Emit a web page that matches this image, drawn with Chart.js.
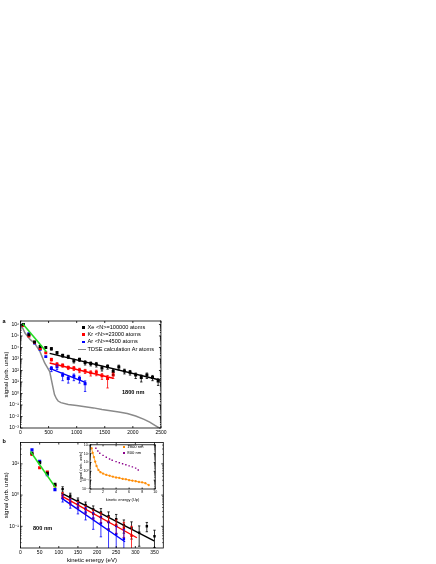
<!DOCTYPE html>
<html>
<head>
<meta charset="utf-8">
<script src="https://cdn.jsdelivr.net/npm/chart.js@4.4.0/dist/chart.umd.min.js"></script>
<style>
  body { margin: 0; background: #fff; }
  #page { position: relative; width: 436px; height: 564px; overflow: hidden; background: #fff; }
  #page canvas { position: absolute; }
  .txt { position: absolute; white-space: nowrap; line-height: 1; color: #000;
         font-family: "Liberation Sans", "DejaVu Sans", Arial, sans-serif; }
  .mark { position: absolute; }
</style>
</head>
<body>
<div id="page">
  <canvas id="chartA" width="168" height="128" style="left:0;top:315px"></canvas>
  <canvas id="chartB" width="168" height="126" style="left:0;top:438px"></canvas>
  <canvas id="chartInset" width="84" height="62" style="left:76px;top:440px"></canvas>
</div>
<script>
const FONT = '"Liberation Sans", "DejaVu Sans", Arial, sans-serif';

// ---- panel a : 1800 nm ----
const xTicksA = [0, 500, 1000, 1500, 2000, 2500];
const lowEnergyA = [50, 150, 250, 350, 450];
const xeLowA = [1.0e6, 1.3e5, 3.0e4, 1.2e4, 1.0e4];
const krLowA = [8.0e5, 1.0e5, 2.8e4, 8.0e3, 3.5e3];
const arLowA = [1.0e6, 1.6e5, 2.5e4, 7.0e3, 1.6e3];

const xeEnergyA = [550, 650, 750, 850, 950, 1050, 1150, 1250, 1350, 1450, 1550, 1650, 1750, 1850, 1950, 2050, 2150, 2250, 2350, 2450];
const xeSignalA = [7900, 3500, 2000, 1600, 700, 900, 500, 400, 350, 160, 220, 80, 200, 90, 70, 40, 25, 40, 25, 12];
const xeErrA = [2000, 900, 600, 500, 250, 300, 200, 150, 150, 70, 90, 40, 90, 40, 30, 20, 15, 20, 12, 7];

const krEnergyA = [550, 650, 750, 850, 950, 1050, 1150, 1250, 1350, 1450, 1550, 1650];
const krSignalA = [900, 350, 280, 180, 160, 110, 90, 63, 70, 35, 20, 40];
const krErrA = [250, 120, 90, 60, 60, 45, 35, 30, 35, 18, 17, 20];

const arEnergyA = [550, 650, 750, 850, 950, 1050, 1150];
const arSignalA = [150, 210, 38, 20, 31, 20, 7];
const arErrA = [70, 90, 25, 12, 18, 12, 5.5];

const lowFitA = { x: [39, 461], y: [1.15e6, 4270] };
const xeFitA = { x: [519, 2500], y: [3090, 14] };
const krFitA = { x: [519, 1650], y: [447, 21] };
const arFitA = { x: [519, 1165], y: [151, 8.9] };

const tdseEnergy = [5, 80, 170, 255, 345, 430, 520, 575, 605, 640, 670, 720, 850, 1000, 1150, 1300, 1450, 1600, 1750, 1900, 2050, 2200, 2300, 2400, 2470];
const tdseSignal = [1.1e6, 1.8e5, 5.0e4, 2.2e4, 4.5e3, 450, 80, 4.0, 0.8, 0.35, 0.22, 0.16, 0.11, 0.09, 0.07, 0.056, 0.04, 0.032, 0.025, 0.018, 0.011, 0.0056, 0.0032, 0.0016, 0.001];

// ---- panel b : 800 nm ----
const xTicksB = [0, 50, 100, 150, 200, 250, 300, 350];
const lowEnergyB = [30, 50, 70, 90];
const xeLowB = [22, 11, 5.0, 2.2];
const krLowB = [20, 7.5, 5.5, 2.0];
const arLowB = [28, 12, 4.5, 1.5];

const xeEnergyB = [110, 130, 150, 170, 190, 210, 230, 250, 270, 290, 310, 330, 350];
const xeSignalB = [1.55, 0.95, 0.66, 0.48, 0.35, 0.28, 0.21, 0.17, 0.11, 0.089, 0.063, 0.10, 0.048];
const xeErrB = [0.3, 0.2, 0.15, 0.12, 0.1, 0.09, 0.08, 0.07, 0.05, 0.05, 0.04, 0.033, 0.027];

const krEnergyB = [110, 130, 150, 170, 190, 210, 230, 250, 270, 290];
const krSignalB = [1.0, 0.63, 0.5, 0.35, 0.25, 0.2, 0.14, 0.11, 0.089, 0.05];
const krErrB = [0.2, 0.15, 0.12, 0.1, 0.08, 0.07, 0.06, 0.05, 0.045, 0.05];

const arEnergyB = [110, 130, 150, 170, 190, 210, 230, 250, 270];
const arSignalB = [0.8, 0.56, 0.4, 0.28, 0.18, 0.126, 0.079, 0.056, 0.04];
const arErrB = [0.2, 0.18, 0.15, 0.12, 0.1, 0.08, 0.06, 0.045, 0.04];

const lowFitB = { x: [26, 92], y: [25, 1.7] };
const xeFitB = { x: [107, 349], y: [1.16, 0.034] };
const krFitB = { x: [107, 304], y: [0.95, 0.043] };
const arFitB = { x: [107, 273], y: [0.80, 0.032] };

// ---- inset : signal vs energy in Up ----
const xTicksInset = [0, 2, 4, 6, 8, 10];
const upEnergy1800 = [0.25, 0.4, 0.6, 0.8, 1.0, 1.3, 1.6, 2.0, 2.5, 3.0, 3.5, 4.0, 4.5, 5.0, 5.5, 6.0, 6.5, 7.0, 7.5, 8.0, 8.5, 9.0];
const upSignal1800 = [400, 126, 40, 12.6, 4.0, 1.4, 0.8, 0.56, 0.4, 0.32, 0.25, 0.2, 0.18, 0.14, 0.126, 0.1, 0.089, 0.076, 0.063, 0.056, 0.045, 0.028];
const upEnergy800 = [0.9, 1.2, 1.5, 2.0, 2.5, 3.0, 3.4, 4.0, 4.5, 5.0, 5.5, 6.0, 6.5, 7.0, 7.4];
const upSignal800 = [400, 200, 112, 63, 39, 25, 18, 12.6, 9.5, 7.2, 5.6, 4.1, 3.2, 2.3, 1.4];

const legendA = [
    { label: 'Xe <N>=100000 atoms', color: '#000000', kind: 'box' },
    { label: 'Kr <N>=23000 atoms', color: '#ff0000', kind: 'box' },
    { label: 'Ar <N>=4500 atoms', color: '#0000ff', kind: 'box' },
    { label: 'TDSE calculation Ar atoms', color: '#8a8a8a', kind: 'line' }
];
const legendInset = [
    { label: '1800 nm', color: '#ff8c00' },
    { label: '800 nm', color: '#8b008b' }
];

const SUP = { '-': '\u207B', '0': '\u2070', '1': '\u00B9', '2': '\u00B2', '3': '\u00B3', '4': '\u2074',
              '5': '\u2075', '6': '\u2076', '7': '\u2077', '8': '\u2078', '9': '\u2079' };

function powLabel(value) {
    const exp = Math.round(Math.log10(value));
    return '10' + String(exp).split('').map(c => SUP[c]).join('');
}

function keepDecades(scale) {
    scale.ticks = scale.ticks.filter(t => {
        const l = Math.log10(t.value);
        return Math.abs(l - Math.round(l)) < 1e-6;
    });
}

function points(xs, ys) {
    return xs.map((x, i) => ({ x: x, y: ys[i] }));
}

function markSet(xs, ys, color, radius, errors) {
    return { data: points(xs, ys), backgroundColor: color, borderColor: color, pointStyle: 'rect',
             pointRadius: radius, pointBorderWidth: 0, showLine: false, errors: errors };
}

function lineSet(fit, color, width) {
    return { data: points(fit.x, fit.y), borderColor: color, borderWidth: width, pointRadius: 0,
             showLine: true, fill: false, tension: 0 };
}

// frame round the plot area with inward ticks on all sides
const framePlugin = {
    id: 'frame',
    afterDraw(chart, args, opts) {
        const ctx = chart.ctx, a = chart.chartArea;
        const xs = chart.scales.x, ys = chart.scales.y;
        const len = opts.tick || 2;
        ctx.save();
        ctx.strokeStyle = '#000';
        ctx.lineWidth = 0.8;
        ctx.strokeRect(a.left, a.top, a.right - a.left, a.bottom - a.top);
        ctx.beginPath();
        xs.ticks.forEach(t => {
            const p = xs.getPixelForValue(t.value);
            ctx.moveTo(p, a.bottom); ctx.lineTo(p, a.bottom - len);
            ctx.moveTo(p, a.top); ctx.lineTo(p, a.top + len);
        });
        ys.ticks.forEach(t => {
            const p = ys.getPixelForValue(t.value);
            ctx.moveTo(a.left, p); ctx.lineTo(a.left + len, p);
            ctx.moveTo(a.right, p); ctx.lineTo(a.right - len, p);
        });
        const lo = Math.floor(Math.log10(ys.min)), hi = Math.ceil(Math.log10(ys.max));
        for (let k = lo; k <= hi; k++) {
            for (let m = 2; m < 10; m++) {
                const v = m * Math.pow(10, k);
                if (v < ys.min || v > ys.max) continue;
                const p = ys.getPixelForValue(v);
                ctx.moveTo(a.left, p); ctx.lineTo(a.left + len / 2, p);
                ctx.moveTo(a.right, p); ctx.lineTo(a.right - len / 2, p);
            }
        }
        ctx.stroke();
        ctx.restore();
    }
};

// vertical error bars for datasets carrying an "errors" array
const errorBarPlugin = {
    id: 'errorBars',
    afterDatasetsDraw(chart) {
        const ctx = chart.ctx, a = chart.chartArea, ys = chart.scales.y;
        chart.data.datasets.forEach((ds, i) => {
            if (!ds.errors) return;
            const meta = chart.getDatasetMeta(i);
            ctx.save();
            ctx.strokeStyle = ds.borderColor;
            ctx.lineWidth = 0.8;
            ctx.beginPath();
            meta.data.forEach((pt, j) => {
                const v = ds.data[j].y, e = ds.errors[j];
                if (!e) return;
                const top = Math.max(a.top, ys.getPixelForValue(v + e));
                const bot = v - e > ys.min ? ys.getPixelForValue(v - e) : a.bottom;
                ctx.moveTo(pt.x, top); ctx.lineTo(pt.x, bot);
                ctx.moveTo(pt.x - 1.2, top); ctx.lineTo(pt.x + 1.2, top);
                if (bot < a.bottom) { ctx.moveTo(pt.x - 1.2, bot); ctx.lineTo(pt.x + 1.2, bot); }
            });
            ctx.stroke();
            ctx.restore();
        });
    }
};

function buildChart(id, datasets, cfg) {
    return new Chart(document.getElementById(id), {
        type: 'scatter',
        data: { datasets: datasets },
        options: {
            responsive: false,
            animation: false,
            events: [],
            layout: { padding: cfg.padding },
            plugins: { legend: { display: false }, tooltip: { enabled: false }, frame: { tick: cfg.tick } },
            scales: {
                x: {
                    type: 'linear', min: cfg.xMin, max: cfg.xMax,
                    grid: { display: false, drawTicks: false }, border: { display: false },
                    ticks: { autoSkip: false, maxRotation: 0, padding: cfg.xPad, color: '#000',
                             callback: v => String(v), font: { family: FONT, size: cfg.tickSize } },
                    afterBuildTicks: s => { s.ticks = cfg.xTicks.map(v => ({ value: v })); },
                    title: { display: !!cfg.xTitle, text: cfg.xTitle, color: '#000', padding: { top: cfg.xTitlePad, bottom: 0 },
                             font: { family: FONT, size: cfg.titleSize } },
                    afterFit: s => { s.height = cfg.xHeight; }
                },
                y: {
                    type: 'logarithmic', min: cfg.yMin, max: cfg.yMax,
                    grid: { display: false, drawTicks: false }, border: { display: false },
                    ticks: { autoSkip: false, padding: cfg.yPad, color: '#000', callback: v => powLabel(v),
                             font: { family: FONT, size: cfg.tickSize } },
                    afterBuildTicks: keepDecades,
                    title: { display: true, text: 'signal (arb. units)', color: '#000', padding: { top: cfg.yTitlePad, bottom: 0 },
                             font: { family: FONT, size: cfg.titleSize } },
                    afterFit: s => { s.width = cfg.yWidth; }
                }
            }
        },
        plugins: [framePlugin, errorBarPlugin]
    });
}

const BLACK = '#000000', RED = '#ff0000', BLUE = '#0000ff', GREEN = '#22dd22', GREY = '#8a8a8a';

buildChart('chartA', [
    lineSet(lowFitA, GREEN, 1.6),
    lineSet(xeFitA, BLACK, 1.4),
    lineSet(krFitA, RED, 1.4),
    lineSet(arFitA, BLUE, 1.4),
    markSet(xeEnergyA, xeSignalA, BLACK, 2.1, xeErrA),
    markSet(krEnergyA, krSignalA, RED, 2.1, krErrA),
    markSet(arEnergyA, arSignalA, BLUE, 2.1, arErrA),
    markSet(lowEnergyA, xeLowA, BLACK, 2.1),
    markSet(lowEnergyA, krLowA, RED, 2.1),
    markSet(lowEnergyA, arLowA, BLUE, 2.1),
    { data: points(tdseEnergy, tdseSignal), borderColor: GREY, borderWidth: 1.5, pointRadius: 0, showLine: true, fill: false }
], {
    padding: { top: 6, right: 5.5, left: 0, bottom: 0 },
    xMin: 0, xMax: 2500, xTicks: xTicksA, xPad: 1.5, xHeight: 15,
    yMin: 1e-3, yMax: 2e6, yPad: 1.5, yWidth: 20.5, yTitlePad: 3.2,
    tickSize: 5, titleSize: 6, tick: 2
});

buildChart('chartB', [
    lineSet(lowFitB, GREEN, 1.6),
    lineSet(xeFitB, BLACK, 1.4),
    lineSet(krFitB, RED, 1.4),
    lineSet(arFitB, BLUE, 1.4),
    markSet(xeEnergyB, xeSignalB, BLACK, 1.7, xeErrB),
    markSet(krEnergyB, krSignalB, RED, 1.7, krErrB),
    markSet(arEnergyB, arSignalB, BLUE, 1.7, arErrB),
    markSet(lowEnergyB, xeLowB, BLACK, 2.2),
    markSet(lowEnergyB, krLowB, RED, 2.2),
    markSet(lowEnergyB, arLowB, BLUE, 2.2)
], {
    padding: { top: 3, right: 4.7, left: 0, bottom: 0 },
    xMin: 0, xMax: 373, xTicks: xTicksB, xPad: 1.5, xHeight: 16, xTitle: 'kinetic energy (eV)', xTitlePad: 1.5,
    yMin: 0.0202, yMax: 48.4, yPad: 1.5, yWidth: 20.5, yTitlePad: 3.2,
    tickSize: 5, titleSize: 6, tick: 2
});

buildChart('chartInset', [
    { data: points(upEnergy1800, upSignal1800), borderColor: '#ff8c00', backgroundColor: '#ff8c00', borderWidth: 0.8,
      pointStyle: 'rect', pointRadius: 0.9, showLine: true, fill: false },
    { data: points(upEnergy800, upSignal800), borderColor: '#8b008b', backgroundColor: '#8b008b', borderWidth: 0,
      pointStyle: 'rect', pointRadius: 1.0, showLine: false }
], {
    padding: { top: 3, right: 3, left: 0, bottom: 0 },
    xMin: 0, xMax: 10, xTicks: xTicksInset, xPad: 1, xHeight: 13, xTitle: 'kinetic energy (Up)', xTitlePad: 0.5,
    yMin: 0.01, yMax: 1000, yPad: 1, yWidth: 14, yTitlePad: 2,
    tickSize: 3.6, titleSize: 4, tick: 1.5
});

// text placed on the page
const page = document.getElementById('page');
function addText(text, left, top, size, bold) {
    const d = document.createElement('div');
    d.className = 'txt';
    d.textContent = text;
    d.style.left = left + 'px';
    d.style.top = top + 'px';
    d.style.fontSize = size + 'px';
    if (bold) d.style.fontWeight = 'bold';
    page.appendChild(d);
    return d;
}
function addMark(left, top, w, h, color) {
    const m = document.createElement('div');
    m.className = 'mark';
    m.style.cssText = 'left:' + left + 'px;top:' + top + 'px;width:' + w + 'px;height:' + h + 'px;background:' + color;
    page.appendChild(m);
}

addText('a', 2.5, 318.5, 5.5, true);
addText('b', 2.5, 438.5, 5.5, true);
addText('1800 nm', 122, 390.2, 5.6, true);
addText('800 nm', 33, 526.2, 5.6, true);

legendA.forEach((item, i) => {
    const cy = 327.5 + i * 7.3;
    if (item.kind === 'box') addMark(82, cy - 1.4, 2.8, 2.8, item.color);
    else addMark(78, cy - 0.6, 8, 1.2, item.color);
    addText(item.label, 87.5, cy - 2.9, 5.6, false);
});

legendInset.forEach((item, i) => {
    const cy = 447.3 + i * 5.8;
    addMark(123.2, cy - 0.9, 1.8, 1.8, item.color);
    addText(item.label, 127.3, cy - 2.1, 4.2, false);
});
</script>
</body>
</html>
